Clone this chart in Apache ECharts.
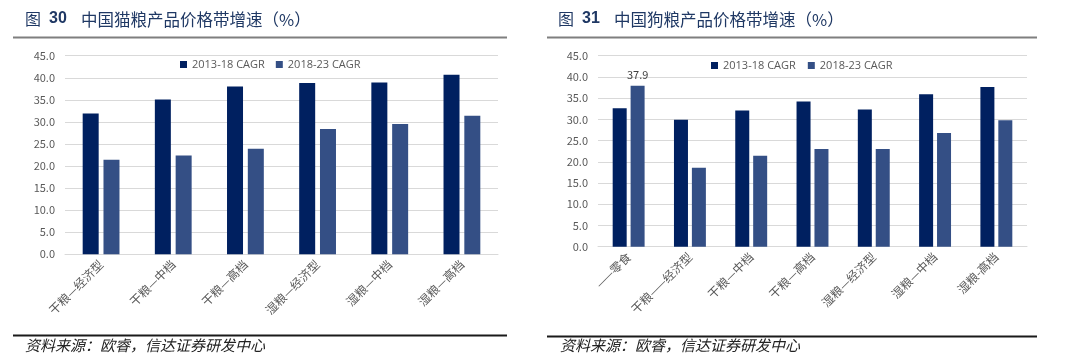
<!DOCTYPE html>
<html><head><meta charset="utf-8">
<script src="https://cdn.jsdelivr.net/npm/echarts@6/dist/echarts.min.js"></script>
<style>html,body{margin:0;padding:0;background:#fff;}#c{width:1080px;height:363px;}</style>
</head><body><div id="c"></div>
<script>
const catCat = ['干粮—经济型','干粮—中档','干粮—高档','湿粮—经济型','湿粮—中档','湿粮—高档'];
const cat1318 = [31.9, 35.1, 38.0, 38.8, 38.9, 40.7];
const cat1823 = [21.4, 22.4, 23.9, 28.4, 29.5, 31.4];
const dogCat = ['——零食','干粮——经济型','干粮—中档','干粮—高档','湿粮—经济型','湿粮—中档','湿粮-高档'];
const dog1318 = [32.6, 29.9, 32.1, 34.2, 32.3, 35.9, 37.6];
const dog1823 = [37.9, 18.6, 21.4, 23.0, 23.0, 26.8, 29.8];
const seriesNames = ['2013-18 CAGR','2018-23 CAGR'];
const yTicks = {min:0, max:45, interval:5};
const titles = ['图 ', '30', ' 中国猫粮产品价格带增速（%）', '31', ' 中国狗粮产品价格带增速（%）'];
const source = '资料来源：欧睿，信达证券研发中心';

const C1 = '#002060', C2 = '#344f85';
const font = '"Noto Sans CJK SC","Noto Sans",sans-serif';
const chart = echarts.init(document.getElementById('c'));

function yAxis(idx){return {type:'value', gridIndex:idx, min:yTicks.min, max:yTicks.max, interval:yTicks.interval,
  axisLabel:{formatter:v=>v.toFixed(1), color:'#595959', fontSize:11, fontFamily:font, margin:10},
  axisLine:{show:false}, axisTick:{show:false}, splitLine:{lineStyle:{color:'#d9d9d9', width:1}}};}
function xAxis(idx, data){return {type:'category', gridIndex:idx, data:data,
  axisLabel:{rotate:45, color:'#595959', fontSize:12, fontFamily:font, margin:8, interval:0},
  axisLine:{lineStyle:{color:'#d9d9d9'}}, axisTick:{show:false}};}

function titleGraphic(x, num, rest){
  return {type:'group', left:x, top:11, children:[
    {type:'text', left:0, top:0, style:{text:'图', fill:'#1f3864', font:'16px '+font}},
    {type:'text', left:24, top:0, style:{text:num, fill:'#1f3864', font:'bold 16px "Liberation Sans",Arial,sans-serif'}},
    {type:'text', left:56, top:0, style:{text:rest.trim(), fill:'#1f3864', font:'16.5px '+font}}
  ]};
}

chart.setOption({
  animation:false,
  textStyle:{fontFamily:font},
  grid:[{left:65, right:582, top:55.7, bottom:108.7},{left:598, right:53, top:55.7, bottom:116.3}],
  legend:[
    {data:seriesNames, left:175, top:54, itemWidth:7, itemHeight:7, icon:'rect', itemGap:11,
     textStyle:{color:'#595959', fontSize:11, fontFamily:'"Open Sans",sans-serif'}},
    {data:seriesNames.map(n=>({name:n+' '})), left:706, top:55, itemWidth:7, itemHeight:7, icon:'rect', itemGap:12,
     formatter:n=>n.trim(), textStyle:{color:'#595959', fontSize:11, fontFamily:'"Open Sans",sans-serif'}}
  ],
  xAxis:[xAxis(0, catCat), xAxis(1, dogCat)],
  yAxis:[yAxis(0), yAxis(1)],
  series:[
    {name:seriesNames[0], type:'bar', xAxisIndex:0, yAxisIndex:0, data:cat1318, barWidth:16, barGap:'30%', itemStyle:{color:C1}},
    {name:seriesNames[1], type:'bar', xAxisIndex:0, yAxisIndex:0, data:cat1823, barWidth:16, barGap:'30%', itemStyle:{color:C2}},
    {name:seriesNames[0]+' ', type:'bar', xAxisIndex:1, yAxisIndex:1, data:dog1318, barWidth:14, barGap:'28%', itemStyle:{color:C1}},
    {name:seriesNames[1]+' ', type:'bar', xAxisIndex:1, yAxisIndex:1, barWidth:14, barGap:'28%', itemStyle:{color:C2},
     data:dog1823.map((v,i)=> i===0 ? {value:v, label:{show:true, position:'top', color:'#404040', fontSize:11, distance:6, formatter:p=>p.value.toFixed(1)}} : v)}
  ],
  graphic:[
    titleGraphic(25, titles[1], titles[2]),
    titleGraphic(558, titles[3], titles[4]),
    {type:'line', shape:{x1:13, y1:37.5, x2:507, y2:37.5}, style:{stroke:'#7f7f7f', lineWidth:2}},
    {type:'line', shape:{x1:547, y1:37.5, x2:1037, y2:37.5}, style:{stroke:'#7f7f7f', lineWidth:2}},
    {type:'line', shape:{x1:13, y1:335.5, x2:507, y2:335.5}, style:{stroke:'#1a1a1a', lineWidth:2}},
    {type:'line', shape:{x1:547, y1:336.5, x2:1037, y2:336.5}, style:{stroke:'#1a1a1a', lineWidth:2}},
    {type:'text', left:25, top:338, style:{text:source, fill:'#222', font:'italic 15px '+font}},
    {type:'text', left:560, top:338, style:{text:source, fill:'#222', font:'italic 15px '+font}}
  ]
});
</script></body></html>
